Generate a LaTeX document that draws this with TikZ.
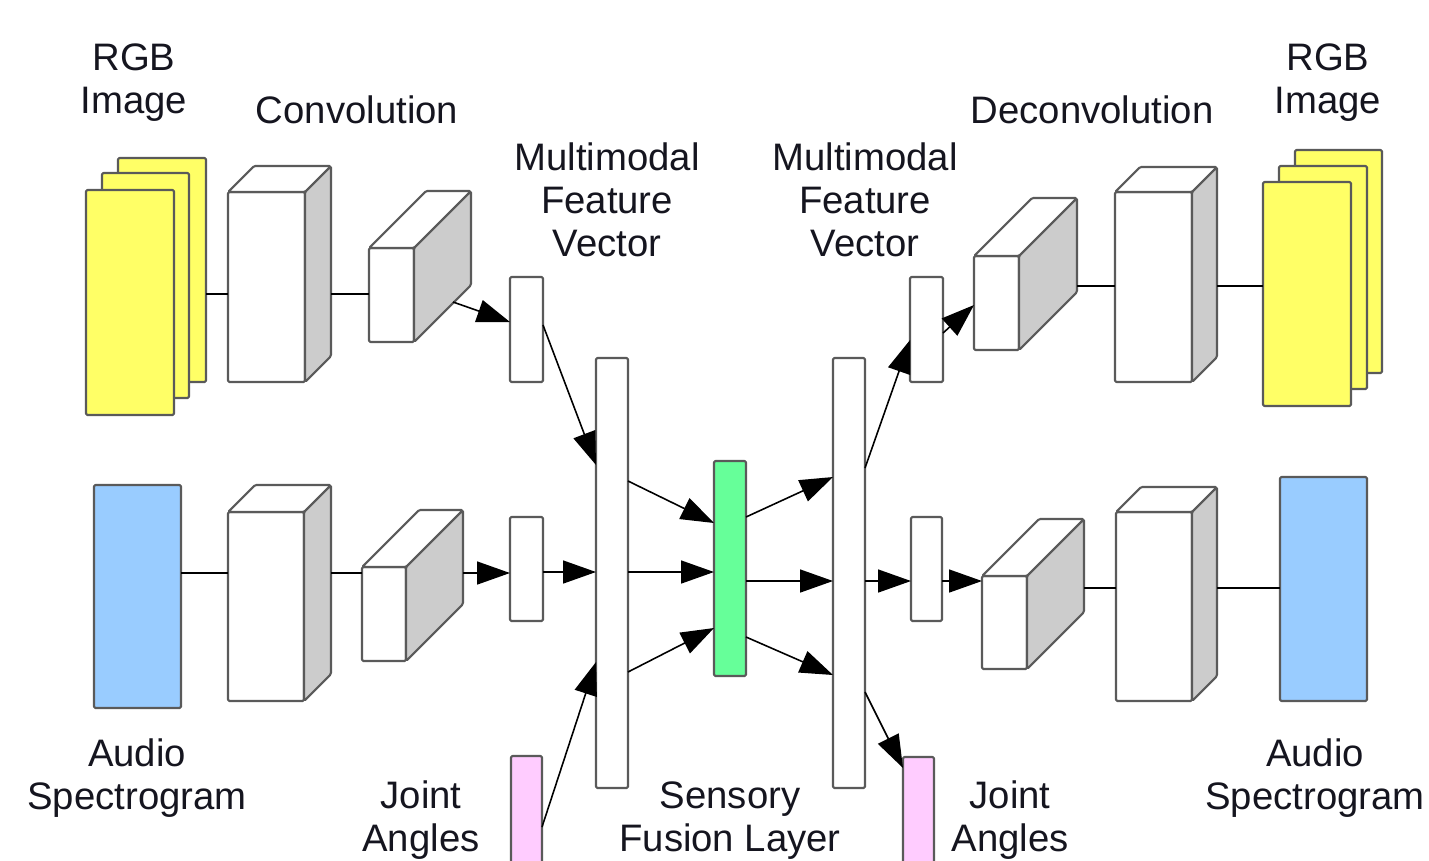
\documentclass[tikz,border=0pt]{standalone}
\usepackage{fontspec}
\setmainfont{Liberation Sans}
\usetikzlibrary{arrows.meta,calc}
\definecolor{yel}{HTML}{FFFF66}
\definecolor{blu}{HTML}{99CCFF}
\definecolor{grn}{HTML}{66FF99}
\definecolor{pnk}{HTML}{FFCCFF}
\definecolor{sidegray}{HTML}{CCCCCC}
\definecolor{edge}{HTML}{5A5A5A}
\definecolor{ink}{HTML}{15151F}
\newcommand\rbox[6]{\node[#6, minimum width={(#4-#2)*0.02cm}, minimum height={(#5-#3)*0.02cm}] (#1) at ({(#2+#4)/2},{(#3+#5)/2}) {};}
\newcommand\cuboid[6]{%
  \rbox{#1}{#2}{#3}{#4}{#5}{face}
  \draw[face] (#1.north west) -- ++(#6,-#6) -- ++(#4-#2,0) -- (#1.north east) -- cycle;
  \draw[face,fill=sidegray] (#1.north east) -- ++(#6,-#6) -- ++(0,#5-#3) -- (#1.south east) -- cycle;
}
\tikzset{
  face/.style={draw=edge, line width=1.2pt, fill=white, line join=round, rounded corners=0.8pt, inner sep=0pt, outer sep=0pt, rectangle},
  conn/.style={draw=black, line width=0.9pt},
  arr/.style={conn, -{Triangle[length=0.66cm, width=0.46cm]}},
  lab/.style={anchor=north, align=center, inner sep=0pt, text=ink, font=\fontsize{21.8}{24.5}\selectfont}
}
\begin{document}
\begin{tikzpicture}[x=0.02cm, y=-0.02cm]
\useasboundingbox (0,0) rectangle (1429,860);
\clip (0,0) rectangle (1429,860);

% ---- left top row
\rbox{yA3}{118}{158}{206}{382}{face,fill=yel}
\rbox{yA2}{102}{173}{189}{398}{face,fill=yel}
\rbox{yA1}{86}{190}{174}{415}{face,fill=yel}
\cuboid{cA1}{228}{192}{305}{382}{26}
\cuboid{cA2}{369}{248}{414}{342}{57}
\coordinate (cA1o) at (331,294);
\coordinate (cA2o) at (453,302);

% ---- left bottom row
\rbox{bA}{94}{485}{181}{708}{face,fill=blu}
\cuboid{cC1}{228}{512}{304}{701}{27}
\cuboid{cC2}{362}{567}{406}{661}{57}
\coordinate (cC1o) at (331,573);
\coordinate (cC2o) at (463,573);

% ---- middle
\rbox{vA1}{510}{277}{543}{382}{face}
\rbox{vA2}{510}{517}{543}{621}{face}
\rbox{colL}{596}{358}{628}{788}{face}
\rbox{g}{714}{461}{746}{676}{face,fill=grn}
\rbox{colR}{833}{358}{865}{788}{face}
\rbox{vB1}{910}{277}{943}{382}{face}
\rbox{vB2}{911}{517}{942}{621}{face}
\rbox{pL}{511}{756}{542}{900}{face,fill=pnk}
\rbox{pR}{903}{757}{934}{900}{face,fill=pnk}

% ---- right top row
\cuboid{cB2}{974}{256}{1019}{350}{58}
\cuboid{cB1}{1115}{192}{1192}{382}{25}
\rbox{yB3}{1295}{150}{1382}{373}{face,fill=yel}
\rbox{yB2}{1279}{166}{1367}{389}{face,fill=yel}
\rbox{yB1}{1263}{182}{1351}{406}{face,fill=yel}
\coordinate (cB2o) at (1077,286);
\coordinate (cB1o) at (1217,286);

% ---- right bottom row
\cuboid{cD2}{982}{576}{1027}{669}{57}
\cuboid{cD1}{1116}{512}{1192}{701}{25}
\rbox{bB}{1280}{477}{1367}{701}{face,fill=blu}
\coordinate (cD2o) at (1084,588);
\coordinate (cD1o) at (1217,588);

% ---- plain connectors
\draw[conn] (yA3.east |- cA1o) -- (cA1.west |- cA1o);
\draw[conn] (cA1o) -- (cA2.west |- cA1o);
\draw[conn] (bA.east |- cC1o) -- (cC1.west |- cC1o);
\draw[conn] (cC1o) -- (cC2.west |- cC1o);
\draw[conn] (cB2o) -- (cB1.west |- cB2o);
\draw[conn] (cB1o) -- (yB1.west |- cB1o);
\draw[conn] (cD2o) -- (cD1.west |- cD2o);
\draw[conn] (cD1o) -- (bB.west |- cD1o);

% ---- arrows
\draw[arr] (cA2o) -- (vA1.west |- 0,322);
\draw[arr] (cC2o) -- (vA2.west |- cC2o);
\draw[arr] (vA1.east |- 0,325) -- (colL.west |- 0,465);
\draw[arr] (vA2.east |- 0,572) -- (colL.west |- 0,572);
\draw[arr] (pL.east |- 0,827) -- (colL.west |- 0,662);
\draw[arr] (colL.east |- 0,481) -- (g.west |- 0,523);
\draw[arr] (colL.east |- 0,572) -- (g.west |- 0,572);
\draw[arr] (colL.east |- 0,672) -- (g.west |- 0,628);
\draw[arr] (g.east |- 0,517) -- (colR.west |- 0,477);
\draw[arr] (g.east |- 0,581) -- (colR.west |- 0,581);
\draw[arr] (g.east |- 0,637) -- (colR.west |- 0,675);
\draw[arr] (colR.east |- 0,468) -- (vB1.west |- 0,340);
\draw[arr] (vB1.east |- 0,333) -- (cB2.west |- 0,305);
\draw[arr] (colR.east |- 0,581) -- (vB2.west |- 0,581);
\draw[arr] (vB2.east |- 0,581) -- (cD2.west |- 0,581);
\draw[arr] (colR.east |- 0,692) -- (pR.north west |- 0,768);

% ---- labels
\node[lab] (lRGBl) at (134,43) {RGB\\Image};
\node[lab] (lConv) at (357,95) {Convolution};
\node[lab] (lMFVl) at (607,142) {Multimodal\\Feature\\Vector};
\node[lab] (lMFVr) at (865,142) {Multimodal\\Feature\\Vector};
\node[lab] (lDeconv) at (1092,95) {Deconvolution};
\node[lab] (lRGBr) at (1328,43) {RGB\\Image};
\node[lab] (lAudl) at (137,738) {Audio\\Spectrogram};
\node[lab] (lJl) at (421,780) {Joint\\Angles};
\node[lab] (lSens) at (730,781) {Sensory\\Fusion Layer};
\node[lab] (lJr) at (1010,780) {Joint\\Angles};
\node[lab] (lAudr) at (1315,738) {Audio\\Spectrogram};
\end{tikzpicture}
\end{document}
